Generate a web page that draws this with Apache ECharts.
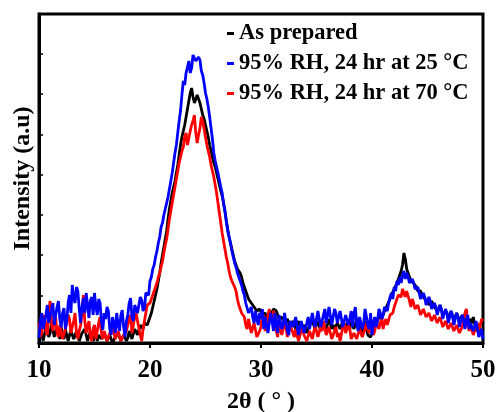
<!DOCTYPE html>
<html>
<head>
<meta charset="utf-8">
<script src="https://cdn.jsdelivr.net/npm/echarts@6/dist/echarts.min.js"></script>
<style>
  html, body { margin: 0; padding: 0; background: #fff; }
  #chart { width: 496px; height: 412px; }
</style>
</head>
<body>
<div id="chart"></div>
<script>
// intensity, one row per degree (step 0.125 deg, 10..50)
const asPrepared = [
  6, 14, 12, 2, 4, 16, 14, 6,   10, 20, 18, 6, 6, 16, 14, 4,
  16, 8, 4, 14, 12, 2, 8, 12,   14, 4, 6, 12, 10, 2, 3, 10,
  8, 14, 12, 2, 4, 12, 10, 2,   6, 10, 2, 8, 10, 4, 4, 10,
  8, 2, 3, 8, 6, 0, 2, 6,   4, 10, 8, 2, 3, 8, 6, 2,
  5, 12, 10, 4, 6, 14, 12, 8,   10, 18, 16, 14, 20, 22, 18, 22,
  26, 30, 36, 42, 48, 54, 62, 70,   80, 88, 96, 104, 112, 124, 134, 142,
  150, 156, 162, 170, 178, 188, 198, 206,   212, 218, 226, 234, 242, 250, 255, 246,
  240, 238, 248, 244, 240, 234, 228, 224,   218, 212, 206, 198, 192, 186, 180, 176,
  170, 164, 158, 152, 147, 140, 132, 122,   114, 106, 100, 94, 88, 82, 78, 74,
  72, 70, 66, 60, 56, 52, 48, 44,   42, 40, 38, 36, 34, 32, 30, 34,
  32, 28, 26, 30, 30, 22, 24, 28,   28, 34, 36, 32, 30, 24, 22, 26,
  26, 20, 20, 24, 24, 16, 18, 22,   22, 14, 16, 22, 20, 12, 14, 18,
  18, 10, 12, 18, 16, 22, 20, 14,   14, 22, 20, 12, 12, 20, 18, 14,
  16, 24, 22, 14, 18, 14, 14, 20,   20, 14, 16, 22, 22, 16, 18, 22,
  14, 22, 20, 14, 16, 24, 22, 16,   18, 10, 12, 22, 20, 8, 10, 6,
  4, 14, 18, 22, 22, 26, 26, 24,   28, 32, 34, 38, 38, 44, 48, 50,
  54, 56, 60, 64, 66, 72, 78, 90,   84, 74, 70, 66, 62, 64, 60, 62,
  56, 52, 50, 52, 48, 46, 44, 42,   42, 38, 38, 42, 40, 36, 34, 32,
  32, 38, 36, 28, 28, 32, 30, 26,   26, 32, 30, 22, 24, 30, 28, 22,
  20, 28, 26, 20, 24, 20, 18, 24,   20, 26, 24, 12, 14, 18, 12, 10,
  8
]
const rh25 = [
  5, 22, 30, 14, 12, 28, 38, 20,   20, 34, 40, 18, 28, 36, 42, 24,
  16, 30, 35, 14, 22, 40, 48, 30,   58, 44, 40, 56, 52, 34, 20, 36,
  45, 30, 50, 38, 25, 42, 46, 28,   50, 36, 28, 44, 40, 22, 13, 30,
  24, 36, 32, 14, 8, 26, 20, 10,   30, 18, 12, 28, 33, 16, 6, 22,
  28, 40, 45, 26, 22, 38, 40, 30,   30, 46, 43, 32, 35, 50, 52, 48,
  62, 66, 74, 78, 86, 92, 100, 106,   116, 120, 128, 134, 140, 146, 154, 162,
  170, 180, 190, 198, 210, 222, 232, 248,   262, 258, 270, 276, 282, 270, 275, 288,
  290, 282, 280, 286, 283, 272, 268, 260,   250, 244, 236, 226, 215, 204, 190, 182,
  176, 170, 163, 156, 150, 140, 132, 122,   112, 106, 100, 92, 86, 80, 76, 70,
  66, 62, 58, 52, 48, 40, 35, 30,   28, 36, 26, 20, 32, 24, 18, 30,
  24, 34, 14, 26, 28, 10, 12, 30,   22, 12, 30, 18, 10, 28, 26, 14,
  18, 30, 28, 12, 8, 22, 24, 16,   14, 26, 24, 8, 6, 22, 20, 10,
  10, 20, 26, 14, 12, 30, 22, 16,   18, 32, 30, 16, 14, 28, 34, 20,
  22, 36, 38, 18, 16, 34, 30, 20,   20, 32, 34, 16, 14, 28, 30, 18,
  24, 32, 16, 30, 36, 20, 12, 26,   28, 14, 20, 34, 32, 18, 14, 30,
  8, 20, 26, 16, 22, 34, 30, 24,   28, 36, 36, 32, 40, 46, 50, 44,
  56, 52, 62, 58, 66, 60, 68, 72,   64, 70, 66, 60, 58, 64, 60, 54,
  52, 56, 50, 44, 44, 50, 46, 38,   40, 46, 42, 34, 34, 40, 36, 28,
  30, 38, 34, 24, 24, 34, 30, 20,   22, 32, 28, 18, 20, 30, 26, 16,
  18, 28, 24, 14, 22, 28, 14, 20,   22, 12, 16, 22, 14, 6, 8, 14,
  4
]
const rh70 = [
  20, 6, 10, 24, 28, 12, 8, 30,   42, 20, 12, 22, 26, 10, 6, 18,
  20, 4, 4, 14, 16, 28, 24, 10,   8, 22, 30, 10, 4, 12, 18, 30,
  48, 22, 10, 16, 22, 6, 2, 14,   18, 4, 6, 20, 26, 10, 4, 12,
  12, 2, 2, 10, 8, 16, 14, 4,   4, 12, 10, 2, 2, 8, 8, 12,
  14, 24, 28, 10, 12, 26, 30, 22,   20, 8, 2, 14, 22, 30, 38, 36,
  40, 44, 48, 52, 56, 60, 66, 70,   76, 82, 90, 98, 104, 114, 124, 132,
  140, 148, 156, 164, 172, 180, 186, 192,   196, 206, 210, 198, 196, 212, 218, 222,
  228, 210, 200, 208, 215, 226, 222, 214,   206, 198, 192, 186, 178, 172, 166, 158,
  150, 140, 130, 120, 110, 102, 94, 86,   80, 72, 66, 62, 60, 56, 52, 44,
  38, 34, 30, 28, 26, 18, 14, 24,   22, 10, 8, 20, 18, 6, 4, 12,
  16, 30, 26, 12, 10, 28, 34, 24,   20, 32, 28, 12, 6, 20, 18, 8,
  14, 26, 24, 6, 4, 18, 20, 10,   6, 14, 12, 2, 2, 12, 16, 8,
  10, 2, 0, 12, 14, 4, 6, 18,   18, 6, 4, 16, 12, 22, 20, 8,
  8, 16, 14, 4, 2, 12, 16, 6,   10, 2, 4, 16, 20, 10, 8, 18,
  14, 4, 2, 10, 12, 4, 6, 14,   16, 6, 4, 14, 20, 14, 10, 20,
  18, 8, 12, 22, 24, 14, 20, 26,   14, 20, 24, 18, 20, 28, 26, 30,
  36, 40, 44, 48, 50, 46, 54, 50,   46, 52, 50, 42, 36, 44, 40, 34,
  34, 38, 36, 28, 30, 34, 32, 26,   24, 30, 30, 22, 22, 28, 26, 20,
  20, 26, 24, 16, 16, 22, 22, 14,   14, 20, 20, 12, 12, 18, 18, 10,
  10, 16, 22, 30, 34, 20, 12, 18,   16, 8, 8, 16, 20, 12, 14, 24,
  22
]
const twoTheta = asPrepared.map((_, i) => 10 + i * 0.125)
const seriesNames = ['As prepared', '95% RH, 24 hr at 25 °C', '95% RH, 24 hr at 70 °C']
const xTicks = [10, 20, 30, 40, 50]
const yTicks = [7, 47, 88, 128, 168, 208, 249, 289]

const font = "'Liberation Serif', 'Times New Roman', serif"
const pairs = arr => arr.map((v, i) => [twoTheta[i], v])

const chart = echarts.init(document.getElementById('chart'))
chart.setOption({
  animation: false,
  grid: {
    left: 39, right: 13, top: 14, bottom: 69,
    outerBoundsMode: 'none',
    show: true, borderColor: '#000', borderWidth: 3
  },
  legend: {
    orient: 'vertical',
    left: 222,
    top: 17,
    itemWidth: 7,
    itemHeight: 3,
    itemGap: 7,
    icon: 'rect',
    data: seriesNames,
    textStyle: {
      fontFamily: font, fontSize: 22.5, fontWeight: 'bold', color: '#000', lineHeight: 22
    }
  },
  xAxis: {
    type: 'value',
    min: xTicks[0],
    max: xTicks[xTicks.length - 1],
    interval: 10,
    name: '2θ ( ° )',
    nameLocation: 'middle',
    nameGap: 47,
    nameTextStyle: { fontFamily: font, fontSize: 24, fontWeight: 'bold', color: '#000' },
    axisLine: { lineStyle: { color: '#000', width: 3 } },
    axisTick: { length: 5, lineStyle: { color: '#000', width: 2 } },
    axisLabel: { fontFamily: font, fontSize: 25, fontWeight: 'bold', color: '#000', margin: 15 },
    splitLine: { show: false }
  },
  yAxis: {
    type: 'value',
    min: 0,
    max: 329,
    name: 'Intensity (a.u)',
    nameLocation: 'middle',
    nameGap: 4,
    nameTextStyle: { fontFamily: font, fontSize: 24, fontWeight: 'bold', color: '#000' },
    axisLine: { show: true, lineStyle: { color: '#000', width: 3 } },
    axisTick: {
      inside: true, length: 4, customValues: yTicks,
      lineStyle: { color: '#000', width: 1.5 }
    },
    axisLabel: { show: false },
    splitLine: { show: false }
  },
  series: [
    { name: seriesNames[0], type: 'line', data: pairs(asPrepared), color: '#000000' },
    { name: seriesNames[2], type: 'line', data: pairs(rh70), color: '#ff0000' },
    { name: seriesNames[1], type: 'line', data: pairs(rh25), color: '#0000ff' }
  ].map(s => Object.assign(s, {
    showSymbol: false,
    lineStyle: { width: 2.8 }
  }))
})
</script>
</body>
</html>
